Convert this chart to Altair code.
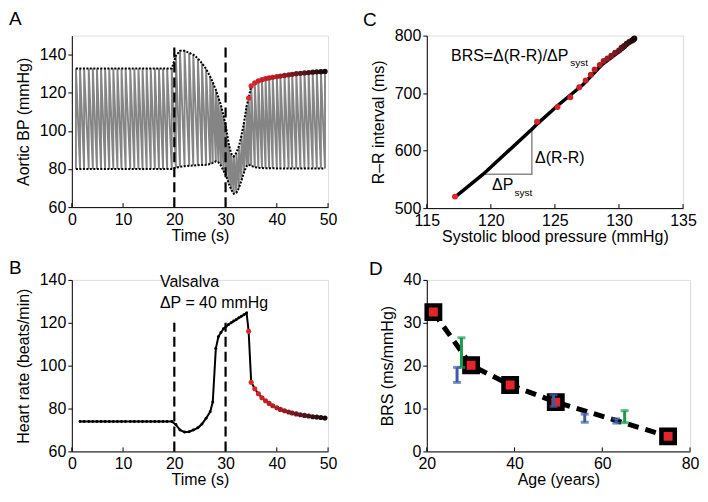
import altair as alt
import pandas as pd

FONT = "Liberation Sans"
RED = "#e3262b"
BLUE = "#3d5ca8"
GREEN = "#1d9a4c"

# ---------------- Panels A and B: beat-by-beat values ----------------
beat_t = [0.8, 1.6, 2.4, 3.3, 4.1, 4.9, 5.7, 6.5, 7.3, 8.1, 8.9, 9.7,
          10.5, 11.4, 12.2, 13.0, 13.8, 14.6, 15.4, 16.2, 17.0, 17.8, 18.6, 19.5,
          20.3, 21.1, 22.0, 22.9, 23.7, 24.6, 25.4, 26.2, 27.0, 27.5, 28.1, 28.6,
          29.1, 29.6, 30.1, 30.6, 31.1, 31.6, 32.1, 32.6, 33.1, 33.6, 34.1]
beat_sbp = [132.8, 132.8, 132.8, 132.8, 132.8, 132.8, 132.8, 132.8, 132.8, 132.8, 132.8, 132.8,
            132.8, 132.8, 132.8, 132.8, 132.8, 132.8, 132.8, 132.8, 132.8, 132.8, 132.8, 132.8,
            139.5, 142.0, 142.0, 141.0, 140.0, 138.0, 135.5, 132.5, 128.5, 125.5, 121.5, 117.5,
            113.5, 108.0, 101.5, 93.5, 88.0, 86.6, 88.5, 92.0, 97.5, 104.5, 113.0]
beat_dbp = [80.0, 80.0, 80.0, 80.0, 80.0, 80.0, 80.0, 80.0, 80.0, 80.0, 80.0, 80.0,
            80.0, 80.0, 80.0, 80.0, 80.0, 80.0, 80.0, 80.0, 80.0, 80.0, 80.0, 80.0,
            80.7, 81.2, 81.5, 81.7, 81.8, 82.0, 82.1, 82.2, 82.6, 83.2, 84.0, 83.5,
            81.8, 79.0, 76.6, 72.5, 69.2, 67.0, 67.5, 70.0, 74.0, 78.3, 81.5]
beat_hr = [None, 74.0, 74.0, 74.0, 74.0, 74.0, 74.0, 74.0, 74.0, 74.0, 74.0, 74.0,
           74.0, 74.0, 74.0, 74.0, 74.0, 74.0, 74.0, 74.0, 74.0, 74.0, 74.0, 74.0,
           72.5, 70.0, 69.0, 69.2, 70.0, 71.0, 72.8, 75.5, 78.5, 83.0, 108.0, 113.5,
           115.5, 117.2, 118.3, 119.2, 120.0, 120.8, 121.5, 122.3, 123.0, 123.8, 124.6]

# recovery beats (coloured red -> black in A, B and C)
rec_t = [34.5, 35.0, 35.7, 36.4, 37.1, 37.8, 38.5, 39.2, 40.0, 40.7, 41.5,
         42.3, 43.0, 43.8, 44.6, 45.4, 46.2, 47.0, 47.8, 48.6, 49.4]
rec_hr = [116.0, 92.3, 89.2, 86.9, 85.0, 83.6, 82.4, 81.3, 80.4, 79.6, 79.0,
          78.4, 77.9, 77.5, 77.1, 76.8, 76.5, 76.2, 76.0, 75.8, 75.6]
rec_rr = [520, 650, 676, 693, 710, 722, 732, 741, 749, 756, 760,
          765, 770, 774, 779, 782, 786, 789, 791, 793, 795]
rec_sbp = [117.2, 123.6, 125.2, 126.2, 126.9, 127.4, 127.8, 128.1, 128.5, 128.8, 129.1,
           129.4, 129.7, 130.0, 130.2, 130.4, 130.6, 130.8, 131.0, 131.1, 131.2]
rec_dbp = [82.3, 81.6, 81.0, 80.7, 80.5, 80.4, 80.4, 80.4, 80.3, 80.3, 80.3,
           80.3, 80.3, 80.3, 80.3, 80.3, 80.3, 80.3, 80.3, 80.3, 80.3]

valsalva_t = [20, 30]

# ---------------- Panel C ----------------
c_line_sbp = [117.2, 119.4, 123.2, 123.65, 125.2, 127.2, 128.7, 130.3, 131.2]
c_line_rr = [519, 559, 637, 647, 678, 715, 750, 777, 795]

# ---------------- Panel D ----------------
model_age = [21.5, 30.1, 39.0, 49.4, 75.0]
model_brs = [32.5, 20.1, 15.5, 11.5, 3.5]
blue_age = [26.9, 48.9, 56.0, 63.2]
blue_lo = [16.1, 10.5, 6.8, 6.6]
blue_hi = [19.6, 13.2, 8.7, 7.6]
green_age = [27.9, 65.1]
green_lo = [19.6, 6.7]
green_hi = [26.5, 9.5]

# ---------------- helpers ----------------
AX = dict(grid=False, domainColor="black", domainWidth=1, labelColor="black",
          titleColor="black", labelFont=FONT, titleFont=FONT, labelFontSize=16,
          titleFontSize=16, titleFontWeight="normal", labelFlush=False,
          labelOverlap=False)


def make_xy(xdom, xvals, xtitle, ydom, yvals, ytitle):
    xax = alt.Axis(values=xvals, title=xtitle, ticks=False, labelPadding=4,
                   titlePadding=0, **AX)
    yax = alt.Axis(values=yvals, title=ytitle, ticks=True, tickSize=4,
                   tickColor="black", labelPadding=2, titlePadding=8, **AX)

    def X(f):
        return alt.X(f + ":Q", scale=alt.Scale(domain=xdom, nice=False, zero=False), axis=xax)

    def Y(f):
        return alt.Y(f + ":Q", scale=alt.Scale(domain=ydom, nice=False, zero=False), axis=yax)
    return X, Y


def inward_xticks(X, vals, H):
    return alt.Chart(pd.DataFrame({"v": vals})).mark_rule(color="black", strokeWidth=1).encode(
        x=X("v"), y=alt.value(H - 4), y2=alt.value(H))


def letter(s, dx, dy):
    return alt.Chart(pd.DataFrame({"s": [s]})).mark_text(
        align="left", baseline="top", fontSize=19, font=FONT, color="black"
    ).encode(text="s:N", x=alt.value(dx), y=alt.value(dy))


color_k = alt.Color("k:Q", scale=alt.Scale(domain=[0, 8, 20], range=[RED, "#b01f24", "#160404"]),
                    legend=None)

all_t = beat_t + rec_t
all_sbp = beat_sbp + rec_sbp
all_dbp = beat_dbp + rec_dbp
all_hr = beat_hr + rec_hr

# ---------------- Panel A ----------------
WA, HA = 257, 172
XA, YA = make_xy([0, 50], [0, 10, 20, 30, 40, 50], "Time (s)",
                 [60, 150], [60, 80, 100, 120, 140], "Aortic BP (mmHg)")

wave_rows = []
for i, (t, s, d) in enumerate(zip(all_t, all_sbp, all_dbp)):
    wave_rows.append({"t": t, "p": d, "o": 2 * i})
    wave_rows.append({"t": t, "p": s, "o": 2 * i + 1})
wave_df = pd.DataFrame(wave_rows)
env_df = pd.DataFrame({"t": all_t, "s": all_sbp, "d": all_dbp})
rec_df = pd.DataFrame({"t": rec_t, "s": rec_sbp, "hr": rec_hr, "rr": rec_rr,
                       "k": list(range(len(rec_t)))})
vs_df = pd.DataFrame({"t": valsalva_t, "lo": [60, 60], "hiA": [145, 145], "hiB": [120, 120]})

wave = alt.Chart(wave_df).mark_line(color="#858585", strokeWidth=1.9).encode(
    x=XA("t"), y=YA("p"), order="o:Q")
upper = alt.Chart(env_df).mark_line(color="black", strokeWidth=2, strokeDash=[2, 1.5]).encode(
    x=XA("t"), y=YA("s"))
lower = alt.Chart(env_df).mark_line(color="black", strokeWidth=2, strokeDash=[2, 1.5]).encode(
    x=XA("t"), y=YA("d"))
dashA = alt.Chart(vs_df).mark_rule(color="black", strokeWidth=2.2, strokeDash=[10, 5]).encode(
    x=XA("t"), y=YA("lo"), y2="hiA:Q")
redA = alt.Chart(rec_df).mark_circle(size=28, opacity=1).encode(
    x=XA("t"), y=YA("s"), color=color_k)

A = alt.layer(wave, upper, lower, dashA, redA,
              inward_xticks(XA, [0, 10, 20, 30, 40, 50], HA),
              letter("A", -63, -26)).properties(width=WA, height=HA)

# ---------------- Panel B ----------------
WB, HB = 257, 172
XB, YB = make_xy([0, 50], [0, 10, 20, 30, 40, 50], "Time (s)",
                 [60, 140], [60, 80, 100, 120, 140], "Heart rate (beats/min)")
hr_df = pd.DataFrame({"t": all_t, "hr": all_hr}).dropna()
pre_df = pd.DataFrame({"t": beat_t, "hr": beat_hr}).dropna()

lineB = alt.Chart(hr_df).mark_line(color="black", strokeWidth=2).encode(x=XB("t"), y=YB("hr"))
dotsB = alt.Chart(pre_df).mark_circle(size=9, color="black", opacity=1).encode(x=XB("t"), y=YB("hr"))
dashB = alt.Chart(vs_df).mark_rule(color="black", strokeWidth=2.2, strokeDash=[10, 5]).encode(
    x=XB("t"), y=YB("lo"), y2="hiB:Q")
redB = alt.Chart(rec_df).mark_circle(size=26, opacity=1).encode(x=XB("t"), y=YB("hr"), color=color_k)
textB = alt.Chart(pd.DataFrame({"t": [17.2, 17.2], "y": [138.8, 129.2],
                                "s": ["Valsalva", "ΔP = 40 mmHg"]})).mark_text(
    align="left", baseline="middle", fontSize=16, font=FONT, color="black").encode(
    x=XB("t"), y=YB("y"), text="s:N")

B = alt.layer(dashB, lineB, dotsB, redB, textB,
              inward_xticks(XB, [0, 10, 20, 30, 40, 50], HB),
              letter("B", -63, -21)).properties(width=WB, height=HB)

# ---------------- Panel C ----------------
WC, HC = 257, 173
XC, YC = make_xy([115, 135], [115, 120, 125, 130, 135], "Systolic blood pressure (mmHg)",
                 [500, 800], [500, 600, 700, 800], "R–R interval (ms)")
cline_df = pd.DataFrame({"s": c_line_sbp, "rr": c_line_rr})
tri_df = pd.DataFrame({"x": [119.4, 123.2, 123.2], "y": [559, 559, 637], "o": [0, 1, 2]})

tri = alt.Chart(tri_df).mark_line(color="#8c8c8c", strokeWidth=1.5).encode(
    x=XC("x"), y=YC("y"), order="o:Q")
lineC = alt.Chart(cline_df).mark_line(color="black", strokeWidth=3.5).encode(x=XC("s"), y=YC("rr"))
redC = alt.Chart(rec_df).mark_circle(size=36, opacity=1).encode(x=XC("s"), y=YC("rr"), color=color_k)
txt_main = alt.Chart(pd.DataFrame({"x": [126.05, 121.75, 123.45], "y": [765, 540, 588],
                                   "s": ["BRS=Δ(R-R)/ΔP", "ΔP", "Δ(R-R)"],
                                   "a": ["right", "right", "left"]}))
txt1 = txt_main.transform_filter("datum.a == 'right'").mark_text(
    align="right", baseline="middle", fontSize=16, font=FONT, color="black").encode(
    x=XC("x"), y=YC("y"), text="s:N")
txt2 = txt_main.transform_filter("datum.a == 'left'").mark_text(
    align="left", baseline="middle", fontSize=16, font=FONT, color="black").encode(
    x=XC("x"), y=YC("y"), text="s:N")
txt_sub = alt.Chart(pd.DataFrame({"x": [126.2, 121.85], "y": [753, 527], "s": ["syst", "syst"]})).mark_text(
    align="left", baseline="middle", fontSize=10, font=FONT, color="black").encode(
    x=XC("x"), y=YC("y"), text="s:N")

C = alt.layer(tri, lineC, redC, txt1, txt2, txt_sub,
              inward_xticks(XC, [115, 120, 125, 130, 135], HC),
              letter("C", -64, -25)).properties(width=WC, height=HC)

# ---------------- Panel D ----------------
WD, HD = 264, 172
XD, YD = make_xy([20, 80], [20, 40, 60, 80], "Age (years)",
                 [0, 40], [0, 10, 20, 30, 40], "BRS (ms/mmHg)")
model_df = pd.DataFrame({"age": model_age, "brs": model_brs})
err_df = pd.DataFrame({"age": blue_age + green_age, "lo": blue_lo + green_lo,
                       "hi": blue_hi + green_hi,
                       "g": ["blue"] * len(blue_age) + ["green"] * len(green_age)})
err_color = alt.Color("g:N", scale=alt.Scale(domain=["blue", "green"], range=[BLUE, GREEN]), legend=None)

dashD = alt.Chart(model_df).mark_line(color="black", strokeWidth=5, strokeDash=[11, 7]).encode(
    x=XD("age"), y=YD("brs"))
sq = alt.Chart(model_df).mark_square(size=180, fill=RED, stroke="black", strokeWidth=4.5, opacity=1).encode(
    x=XD("age"), y=YD("brs"))
eb = alt.Chart(err_df).mark_rule(strokeWidth=3).encode(x=XD("age"), y=YD("lo"), y2="hi:Q", color=err_color)
cap_lo = alt.Chart(err_df).mark_tick(size=8, thickness=3, orient="horizontal").encode(
    x=XD("age"), y=YD("lo"), color=err_color)
cap_hi = alt.Chart(err_df).mark_tick(size=8, thickness=3, orient="horizontal").encode(
    x=XD("age"), y=YD("hi"), color=err_color)

D = alt.layer(dashD, sq, eb, cap_lo, cap_hi,
              inward_xticks(XD, [20, 40, 60, 80], HD),
              letter("D", -58, -20)).properties(width=WD, height=HD)

chart = alt.concat(A, C, B, D, columns=2, spacing={"row": 72, "column": 99},
                   bounds="flush", align="each").properties(
    padding={"left": 0, "top": 0, "right": 0, "bottom": 0}
).configure_view(stroke=None).configure(background="white")

chart.save("out.html", embed_options={"renderer": "svg", "actions": False})
